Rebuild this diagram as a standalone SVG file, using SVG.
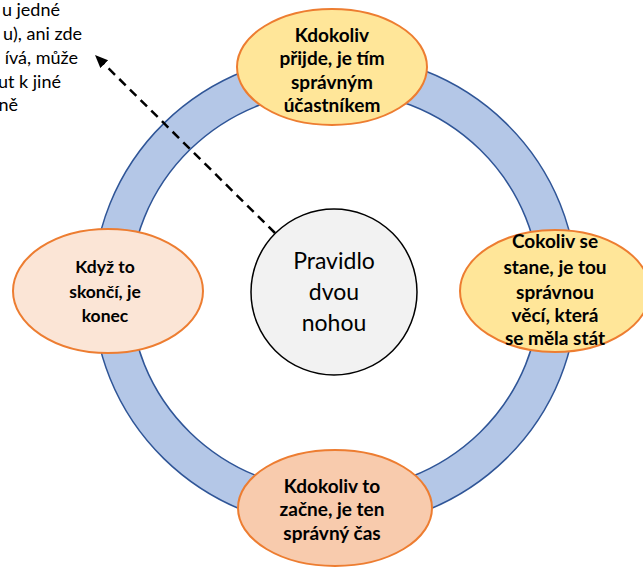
<svg xmlns="http://www.w3.org/2000/svg" width="643" height="568" viewBox="0 0 643 568">
<style>
.node{stroke:#ED7D31;stroke-width:2}
.y{fill:#FFE699}
.p{fill:#FBE5D6}
.s{fill:#F8CBAD}
.t{font-family:Lato,"Liberation Sans",sans-serif;font-weight:bold;font-size:19px;fill:#000;text-anchor:middle}
.c{font-family:Lato,"Liberation Sans",sans-serif;font-size:23px;fill:#000;text-anchor:middle}
.n{font-family:Lato,"Liberation Sans",sans-serif;font-size:18px;fill:#000;text-anchor:end}
.conn{stroke:#000;stroke-width:2.5;stroke-dasharray:9 6;fill:none}
</style>
<defs>
<marker id="ah" markerUnits="userSpaceOnUse" markerWidth="14" markerHeight="12" refX="13" refY="5.5" orient="auto">
<path d="M0,0 L13,5.5 L0,11 z" fill="#000"/>
</marker>
</defs>
<rect width="643" height="568" fill="#fff"/>
<g id="ring">
<path d="M93 291 A242 237 0 1 0 577 291 A242 237 0 1 0 93 291 Z M130 291 A205 200 0 1 0 540 291 A205 200 0 1 0 130 291 Z" fill="#B4C7E7" fill-rule="evenodd" stroke="#2F5597" stroke-width="1.5"/>
</g>
<g id="note">
<text class="n" x="60" y="16">u jedné</text>
<text class="n" x="82" y="40">u), ani zde</text>
<text class="n" x="78" y="64">ívá, může</text>
<text class="n" x="61" y="88">ut k jiné</text>
<text class="n" x="18" y="111">ně</text>
</g>
<g id="connectors">
<line class="conn" x1="275" y1="233" x2="95" y2="55" marker-end="url(#ah)"/>
</g>
<g id="n-top">
<ellipse class="node y" cx="332" cy="67" rx="95" ry="58"/>
<text class="t" x="332" y="42">Kdokoliv</text>
<text class="t" x="332" y="65">přijde, je tím</text>
<text class="t" x="332" y="89">správným</text>
<text class="t" x="332" y="112">účastníkem</text>
</g>
<g id="n-right">
<ellipse class="node y" cx="555" cy="291" rx="95" ry="61"/>
<text class="t" x="555" y="248">Cokoliv se</text>
<text class="t" x="555" y="274">stane, je tou</text>
<text class="t" x="555" y="299">správnou</text>
<text class="t" x="555" y="322">věcí, která</text>
<text class="t" x="555" y="345">se měla stát</text>
</g>
<g id="n-left">
<ellipse class="node p" cx="108" cy="291" rx="95" ry="62"/>
<text class="t" x="105" y="273" style="font-size:17.5px">Když to</text>
<text class="t" x="105" y="298" style="font-size:17.5px">skončí, je</text>
<text class="t" x="105" y="322" style="font-size:17.5px">konec</text>
</g>
<g id="n-bottom">
<ellipse class="node s" cx="335" cy="508" rx="97" ry="58"/>
<text class="t" x="332" y="493">Kdokoliv to</text>
<text class="t" x="332" y="516">začne, je ten</text>
<text class="t" x="332" y="540">správný čas</text>
</g>
<g id="n-center">
<circle cx="334" cy="292" r="83" fill="#F2F2F2" stroke="#000" stroke-width="1.5"/>
<text class="c" x="334" y="269">Pravidlo</text>
<text class="c" x="334" y="300">dvou</text>
<text class="c" x="334" y="331">nohou</text>
</g>
</svg>
